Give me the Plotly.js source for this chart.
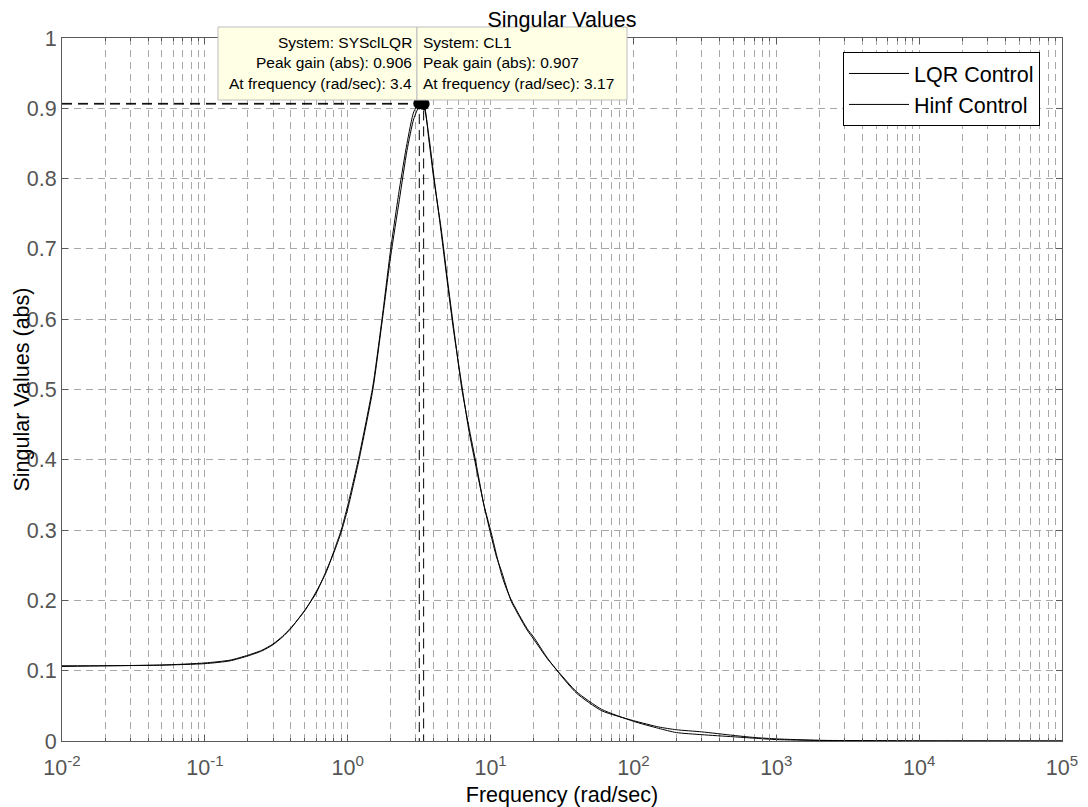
<!DOCTYPE html>
<html>
<head>
<meta charset="utf-8">
<script src="https://cdn.plot.ly/plotly-3.0.1.min.js"></script>
<style>
  html, body { margin: 0; padding: 0; background: #ffffff; }
  #chart { width: 1088px; height: 807px; }
</style>
</head>
<body>
<div id="chart"></div>
<script>
// Frequency grid (rad/sec) shared by both closed-loop responses
const freq = [0.01, 0.02, 0.05, 0.1, 0.15, 0.2, 0.25, 0.3, 0.35, 0.4, 0.5, 0.6, 0.7, 0.8,
  0.9, 1.0, 1.2, 1.5, 1.75, 2.0, 2.3, 2.6, 2.9, 3.17, 3.4, 3.7, 4.0, 4.5, 5.0, 5.5, 6.3,
  7.0, 8.0, 9.0, 10, 11, 12, 13, 14, 16, 18, 20, 25, 30, 40, 60, 100, 150, 200, 300,
  500, 700, 1000, 2000, 10000, 100000];

// Largest singular value, LQR closed loop (SYSclLQR)
const lqrGain = [0.106, 0.107, 0.108, 0.110, 0.114, 0.121, 0.128, 0.137, 0.148, 0.160,
  0.186, 0.210, 0.240, 0.268, 0.297, 0.330, 0.400, 0.500, 0.600, 0.690, 0.770, 0.840,
  0.885, 0.903, 0.906, 0.855, 0.800, 0.730, 0.655, 0.590, 0.500, 0.450, 0.390, 0.335,
  0.300, 0.265, 0.235, 0.215, 0.200, 0.178, 0.160, 0.148, 0.118, 0.097, 0.068, 0.043,
  0.029, 0.020, 0.016, 0.013, 0.008, 0.005, 0.003, 0.001, 0.0002, 0.00002];

// Largest singular value, H-infinity closed loop (CL1)
const hinfGain = [0.107, 0.107, 0.108, 0.111, 0.115, 0.122, 0.129, 0.138, 0.149, 0.161,
  0.185, 0.212, 0.238, 0.270, 0.300, 0.335, 0.405, 0.505, 0.605, 0.700, 0.785, 0.850,
  0.895, 0.907, 0.903, 0.860, 0.805, 0.725, 0.650, 0.585, 0.505, 0.445, 0.385, 0.335,
  0.295, 0.262, 0.240, 0.217, 0.198, 0.176, 0.158, 0.145, 0.117, 0.098, 0.070, 0.045,
  0.028, 0.018, 0.012, 0.009, 0.006, 0.004, 0.002, 0.0008, 0.0001, 0.00001];

const seriesNames = ['LQR Control', 'Hinf Control'];
const systemNames = ['SYSclLQR', 'CL1'];
const decadeTicks = [1e-2, 1e-1, 1e0, 1e1, 1e2, 1e3, 1e4, 1e5];
const decadeLabels = ['10<sup>-2</sup>', '10<sup>-1</sup>', '10<sup>0</sup>', '10<sup>1</sup>',
  '10<sup>2</sup>', '10<sup>3</sup>', '10<sup>4</sup>', '10<sup>5</sup>'];
const gainTicks = [0, 0.1, 0.2, 0.3, 0.4, 0.5, 0.6, 0.7, 0.8, 0.9, 1];

const FONT = 'Liberation Sans, Arial, Helvetica, sans-serif';
const GRID = '#a8a8a8';
const AXIS = '#5a5a5a';
const DASH = '7px,5px';
const BIG = 21.5;

// minor log ticks at 2..9 of every decade
const minorTicks = [];
for (let e = -2; e < 5; e++) {
  for (let d = 2; d <= 9; d++) minorTicks.push(d * Math.pow(10, e));
}

function peakOf(values) {
  let k = 0;
  values.forEach((v, i) => { if (v > values[k]) k = i; });
  return { f: freq[k], g: values[k] };
}
const series = [lqrGain, hinfGain];
const peaks = series.map(peakOf);

const traces = [];
series.forEach((vals, i) => {
  traces.push({
    x: freq, y: vals, type: 'scatter', mode: 'lines', name: seriesNames[i],
    line: { color: '#000000', width: 1, shape: 'spline', smoothing: 0.6 }
  });
});
// peak-gain data tips: guide lines and markers
peaks.forEach((p) => {
  traces.push({
    x: [freq[0], p.f, p.f], y: [p.g, p.g, 0], type: 'scatter', mode: 'lines',
    showlegend: false, hoverinfo: 'skip',
    line: { color: '#000000', width: 1, dash: '10px,6px' }
  });
});
traces.push({
  x: peaks.map(p => p.f), y: peaks.map(p => p.g), type: 'scatter', mode: 'markers',
  showlegend: false, hoverinfo: 'skip',
  marker: { color: '#000000', size: 12, line: { width: 0 } }
});

// data tip boxes (pixel layout converted to paper units)
const L = 62, R = 1062, T = 38, B = 741;
const px = (x) => (x - L) / (R - L);
const py = (y) => (B - y) / (B - T);
const boxTop = 27, boxBottom = 100, boxSplit = 417;
const boxLeft = 218, boxRight = 627;

const tipLines = peaks.map((p, i) => [
  'System: ' + systemNames[i],
  'Peak gain (abs): ' + p.g,
  'At frequency (rad/sec): ' + p.f
]);

const shapes = [
  { type: 'rect', xref: 'paper', yref: 'paper', layer: 'above',
    x0: px(boxLeft), x1: px(boxSplit), y0: py(boxBottom), y1: py(boxTop),
    fillcolor: '#ffffe6', line: { color: '#bdbdbd', width: 1 } },
  { type: 'rect', xref: 'paper', yref: 'paper', layer: 'above',
    x0: px(boxSplit), x1: px(boxRight), y0: py(boxBottom), y1: py(boxTop),
    fillcolor: '#ffffe6', line: { color: '#bdbdbd', width: 1 } }
];

const annotations = [];
const lineY = [43, 63, 83];
tipLines[0].forEach((t, j) => annotations.push({
  xref: 'paper', yref: 'paper', x: px(boxSplit - 3), y: py(lineY[j]),
  xanchor: 'right', yanchor: 'middle', text: t, showarrow: false,
  font: { family: FONT, size: 15.5, color: '#000000' }
}));
tipLines[1].forEach((t, j) => annotations.push({
  xref: 'paper', yref: 'paper', x: px(boxSplit + 4), y: py(lineY[j]),
  xanchor: 'left', yanchor: 'middle', text: t, showarrow: false,
  font: { family: FONT, size: 15.5, color: '#000000' }
}));
// vertical axis label, set close to the tick labels
annotations.push({
  xref: 'paper', yref: 'paper', x: px(21), y: 0.5, xanchor: 'center', yanchor: 'middle',
  textangle: -90, text: 'Singular Values (abs)', showarrow: false,
  font: { family: FONT, size: BIG, color: '#000000' }
});

const layout = {
  width: 1088, height: 807,
  margin: { l: L, r: 1088 - R, t: T, b: 807 - B, pad: 0 },
  paper_bgcolor: '#ffffff', plot_bgcolor: '#ffffff',
  font: { family: FONT, color: '#000000' },
  title: {
    text: 'Singular Values', xref: 'paper', x: 0.5, xanchor: 'center',
    yref: 'container', y: 1 - 19 / 807, yanchor: 'middle',
    font: { family: FONT, size: BIG, color: '#000000' }
  },
  xaxis: {
    type: 'log', range: [-2, 5], tickmode: 'array', tickvals: decadeTicks, ticktext: decadeLabels,
    ticks: 'inside', ticklen: 6, tickcolor: AXIS, showline: true, linecolor: AXIS, linewidth: 1,
    mirror: 'ticks', showgrid: true, gridcolor: GRID, griddash: DASH, gridwidth: 1, zeroline: false,
    tickfont: { family: FONT, size: BIG, color: '#555555' }, ticklabelstandoff: 7,
    minor: { tickmode: 'array', tickvals: minorTicks, ticks: 'inside', ticklen: 3, tickcolor: AXIS,
      showgrid: true, gridcolor: GRID, griddash: DASH, gridwidth: 1 },
    title: { text: 'Frequency (rad/sec)', font: { family: FONT, size: BIG, color: '#000000' }, standoff: 10 },
    automargin: false
  },
  yaxis: {
    range: [0, 1], tickmode: 'array', tickvals: gainTicks,
    ticks: 'inside', ticklen: 6, tickcolor: AXIS, showline: true, linecolor: AXIS, linewidth: 1,
    mirror: 'ticks', showgrid: true, gridcolor: GRID, griddash: DASH, gridwidth: 1, zeroline: false,
    tickfont: { family: FONT, size: BIG, color: '#555555' },
    automargin: false
  },
  legend: {
    x: px(1040), xanchor: 'right', y: py(52), yanchor: 'top',
    bgcolor: '#ffffff', bordercolor: '#000000', borderwidth: 1, itemwidth: 60,
    font: { family: FONT, size: BIG, color: '#000000' }
  },
  shapes: shapes,
  annotations: annotations,
  showlegend: true
};

Plotly.newPlot('chart', traces, layout, { displayModeBar: false, staticPlot: true });
</script>
</body>
</html>
